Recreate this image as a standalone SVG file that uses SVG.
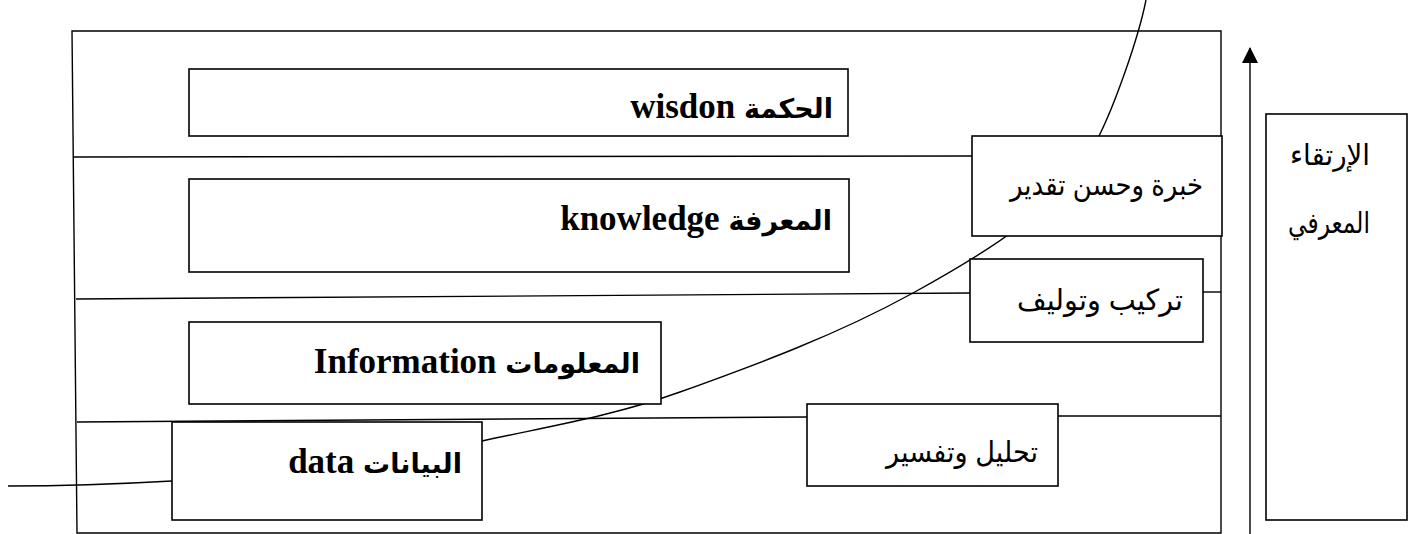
<svg xmlns="http://www.w3.org/2000/svg" width="1413" height="534" viewBox="0 0 1413 534">
  <style>
    .box { fill: #ffffff; stroke: #000000; stroke-width: 1.6; }
    .ln { fill: none; stroke: #000000; stroke-width: 1.4; }
    .big { font-family: "Liberation Serif", "DejaVu Sans", serif; font-weight: bold; font-size: 35px; fill: #000000; }
    .ar { font-size: 27px; }
    .lbl { font-family: "Liberation Sans", "DejaVu Sans", sans-serif; font-size: 29px; fill: #000000; }
  </style>
  <defs>
    <marker id="arrowhead" markerWidth="16" markerHeight="16" refX="15" refY="8" orient="auto" markerUnits="userSpaceOnUse" viewBox="0 0 16 16">
      <path d="M0,0 L16,8 L0,16 Z" fill="#000000"/>
    </marker>
  </defs>
  <rect width="1413" height="534" fill="#ffffff"/>

  <g id="connectors">
    <!-- outer frame -->
    <path class="ln" d="M72,31 L1221,31 L1221,533 L77,533 Z"/>
    <!-- level separators -->
    <path class="ln" d="M73,157 L972,156"/>
    <path class="ln" d="M76,299 L970,293"/>
    <path class="ln" d="M1203,292 L1221,292"/>
    <path class="ln" d="M77,422 L807,417"/>
    <path class="ln" d="M1058,416 L1221,416"/>
    <!-- growth curve -->
    <path class="ln" d="M8,486 C60,486 120,484 172,481 C275,475 379,464 482,441 C548,426.5 614,415.8 680,392 C757.7,364 835.3,335.7 913,293 C983,254.5 1063,208 1099,136 C1114,106 1138,40 1146,0"/>
    <!-- upward arrow -->
    <path class="ln" d="M1250,534 L1250,48" marker-end="url(#arrowhead)"/>
  </g>

  <g id="node-wisdom">
    <rect class="box" x="189" y="69" width="659" height="67"/>
    <text class="big" x="833" y="118" direction="rtl" text-anchor="start"><tspan class="ar">الحكمة</tspan> wisdon</text>
  </g>
  <g id="node-knowledge">
    <rect class="box" x="189" y="179" width="660" height="93"/>
    <text class="big" x="832" y="230" direction="rtl" text-anchor="start"><tspan class="ar">المعرفة</tspan> knowledge</text>
  </g>
  <g id="node-information">
    <rect class="box" x="189" y="322" width="472" height="82"/>
    <text class="big" x="640" y="373" direction="rtl" text-anchor="start"><tspan class="ar">المعلومات</tspan> Information</text>
  </g>
  <g id="node-data">
    <rect class="box" x="172" y="422" width="310" height="98"/>
    <text class="big" x="462" y="473" direction="rtl" text-anchor="start"><tspan class="ar">البيانات</tspan> data</text>
  </g>

  <g id="node-experience">
    <rect class="box" x="972" y="136" width="250" height="100"/>
    <text class="lbl" x="1203" y="195" direction="rtl" text-anchor="start" textLength="193" lengthAdjust="spacingAndGlyphs">خبرة وحسن تقدير</text>
  </g>
  <g id="node-synthesis">
    <rect class="box" x="970" y="259" width="233" height="83"/>
    <text class="lbl" x="1183" y="310" direction="rtl" text-anchor="start" textLength="166" lengthAdjust="spacingAndGlyphs">تركيب وتوليف</text>
  </g>
  <g id="node-analysis">
    <rect class="box" x="807" y="404" width="251" height="82"/>
    <text class="lbl" x="1038" y="462" direction="rtl" text-anchor="start" textLength="152" lengthAdjust="spacingAndGlyphs">تحليل وتفسير</text>
  </g>

  <g id="node-ascent">
    <rect class="box" x="1266" y="114" width="141" height="406"/>
    <text class="lbl" x="1370" y="165" direction="rtl" text-anchor="start" textLength="80" lengthAdjust="spacingAndGlyphs">الإرتقاء</text>
    <text class="lbl" x="1370" y="233" direction="rtl" text-anchor="start" textLength="82" lengthAdjust="spacingAndGlyphs">المعرفي</text>
  </g>
</svg>
